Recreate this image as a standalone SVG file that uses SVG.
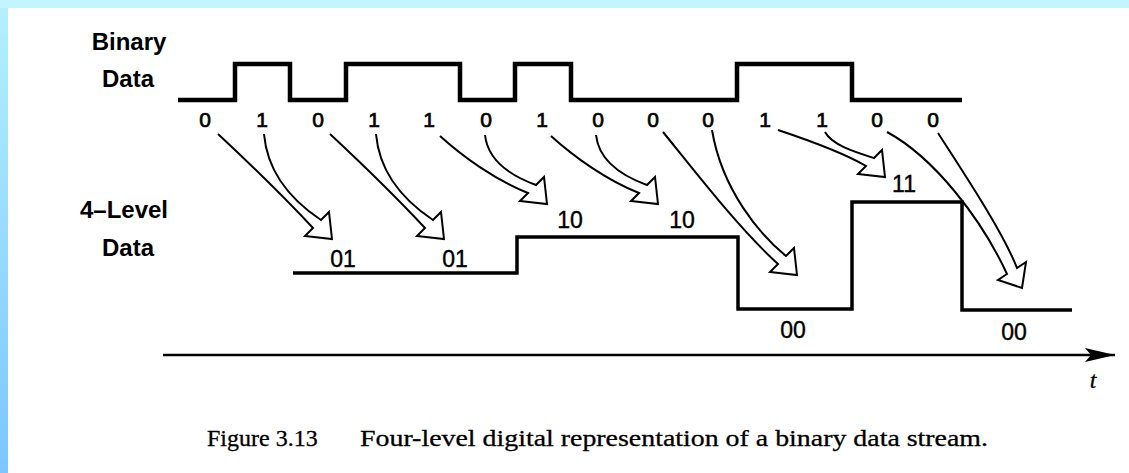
<svg xmlns="http://www.w3.org/2000/svg" width="1129" height="473" viewBox="0 0 1129 473">
  <defs>
    <linearGradient id="leftBar" x1="0" y1="0" x2="0" y2="1">
      <stop offset="0" stop-color="#B4F0FF"/>
      <stop offset="1" stop-color="#7CC6FF"/>
    </linearGradient>
    <marker id="axisHead" markerWidth="30" markerHeight="14" refX="30" refY="7" orient="auto" markerUnits="userSpaceOnUse">
      <path d="M0,0 L30,7 L0,14 L6,7 Z" fill="#000"/>
    </marker>
  </defs>
  <style>
    .lbl { font-family: "Liberation Sans", Arial, sans-serif; font-weight: bold; font-size: 24px; fill: #000; text-anchor: middle; }
    .bit { font-family: "Liberation Sans", Arial, sans-serif; font-size: 21px; fill: #000; stroke: #000; stroke-width: 0.7; text-anchor: middle; }
    .sym { font-family: "Liberation Sans", Arial, sans-serif; font-size: 23px; fill: #000; stroke: #000; stroke-width: 0.4; text-anchor: middle; }
    .cap { font-family: "Liberation Serif", "Times New Roman", serif; font-size: 24px; fill: #000; stroke: #000; stroke-width: 0.3; }
    .wave { fill: none; stroke: #000; stroke-linejoin: miter; stroke-linecap: butt; }
    .arr { fill: none; stroke: #000; stroke-width: 2; stroke-linejoin: miter; }
  </style>

  <rect x="0" y="0" width="1129" height="473" fill="#FFFFFF"/>
  <rect x="0" y="0" width="8" height="473" fill="url(#leftBar)"/>
  <rect x="0" y="0" width="1129" height="8" fill="#C2F5FF"/>

  <g id="label-binary">
    <text class="lbl" x="129" y="50">Binary</text>
    <text class="lbl" x="128" y="87">Data</text>
  </g>
  <g id="label-4level">
    <text class="lbl" x="124" y="218">4–Level</text>
    <text class="lbl" x="128" y="256">Data</text>
  </g>

  <g id="binary-wave">
    <path class="wave" stroke-width="4.5" d="M178,100 H235 V64 H290 V100 H346 V64 H460 V100 H515 V64 H571 V100 H737 V64 H852 V100 H962"/>
  </g>

  <g id="binary-bits">
    <text class="bit" x="205" y="127">0</text>
    <text class="bit" x="262" y="127">1</text>
    <text class="bit" x="318" y="127">0</text>
    <text class="bit" x="374" y="127">1</text>
    <text class="bit" x="429" y="127">1</text>
    <text class="bit" x="486" y="127">0</text>
    <text class="bit" x="542" y="127">1</text>
    <text class="bit" x="598" y="127">0</text>
    <text class="bit" x="653" y="127">0</text>
    <text class="bit" x="708" y="127">0</text>
    <text class="bit" x="765" y="127">1</text>
    <text class="bit" x="822" y="127">1</text>
    <text class="bit" x="877" y="127">0</text>
    <text class="bit" x="933" y="127">0</text>
  </g>

  <g id="level-wave">
    <path class="wave" stroke-width="3.5" d="M293,273 H517 V237 H738 V309 H852 V202 H962 V310 H1072"/>
  </g>

  <g id="level-symbols">
    <text class="sym" x="343" y="267">01</text>
    <text class="sym" x="455" y="267">01</text>
    <text class="sym" x="570" y="228">10</text>
    <text class="sym" x="682" y="228">10</text>
    <text class="sym" x="904" y="192">11</text>
    <text class="sym" x="793" y="338">00</text>
    <text class="sym" x="1014" y="340">00</text>
  </g>

  <g id="connectors">
    <path class="arr" d="M218,134 C248,162 285,198 313,228 L305,236 L332,239 L329,212 L321,220 C300,206 268,180 264,134"/>
    <path class="arr" d="M330,134 C360,162 397,198 425,228 L417,236 L444,239 L441,212 L433,220 C412,206 380,180 376,134"/>
    <path class="arr" d="M440,136 C462,156 495,180 528,193 L520,201 L547,204 L544,177 L536,185 C514,177 488,162 485,135"/>
    <path class="arr" d="M551,136 C573,156 606,180 639,193 L631,201 L658,204 L655,177 L647,185 C625,177 599,162 596,135"/>
    <path class="arr" d="M663,132 C690,165 738,228 778,264 L770,272 L797,275 L794,248 L786,256 C760,235 722,190 712,130"/>
    <path class="arr" d="M778,130 C808,140 842,152 866,166 L858,174 L885,177 L882,150 L874,158 C855,152 832,145 825,132"/>
    <path class="arr" d="M887,132 C935,158 982,220 1007,274 L998,280 L1022,288 L1026,262 L1017,268 C1003,232 965,175 938,133"/>
  </g>

  <g id="time-axis">
    <line x1="163" y1="355" x2="1115" y2="355" stroke="#000" stroke-width="2.5" marker-end="url(#axisHead)"/>
    <text class="cap" x="1093" y="388" font-style="italic" text-anchor="middle">t</text>
  </g>

  <g id="caption">
    <text class="cap" x="207" y="446">Figure 3.13</text>
    <text class="cap" x="360" y="446" textLength="628" lengthAdjust="spacingAndGlyphs">Four-level digital representation of a binary data stream.</text>
  </g>
</svg>
